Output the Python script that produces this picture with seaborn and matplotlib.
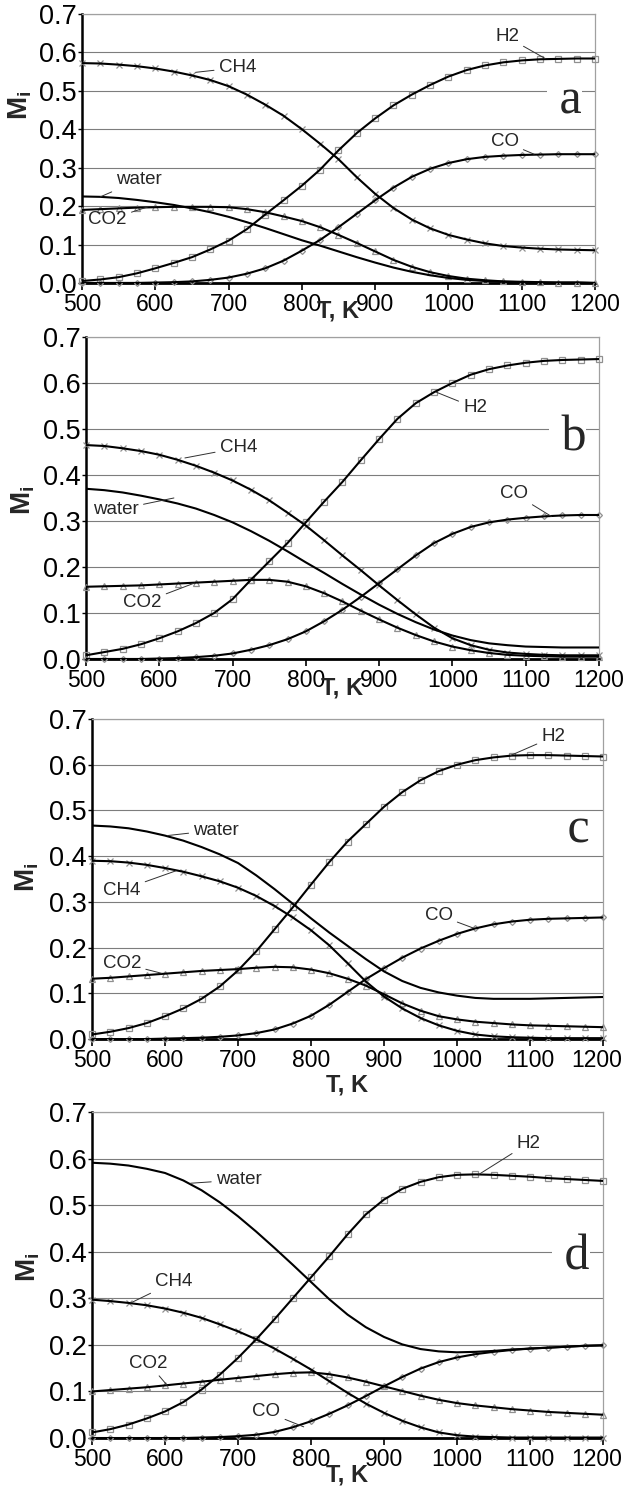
import matplotlib
matplotlib.use("Agg")
import matplotlib.pyplot as plt
import matplotlib.transforms as mtransforms
import seaborn as sns
import pandas as pd
from matplotlib.ticker import FormatStrFormatter

# ---------------- data ----------------
T = [500, 525, 550, 575, 600, 625, 650, 675, 700, 725, 750, 775, 800, 825, 850,
     875, 900, 925, 950, 975, 1000, 1025, 1050, 1075, 1100, 1125, 1150, 1175, 1200]

# panel a
a_H2 = [.005, .009, .015, .025, .038, .052, .067, .087, .110, .140, .178, .215, .253, .295, .345,
        .390, .428, .462, .490, .515, .537, .554, .566, .574, .579, .582, .583, .584, .584]
a_CO = [0, 0, 0, 0, .001, .002, .004, .008, .014, .024, .038, .058, .084, .112, .145,
        .180, .215, .248, .276, .297, .312, .322, .328, .331, .333, .334, .335, .335, .335]
a_CH4 = [.572, .571, .568, .564, .558, .550, .540, .528, .512, .490, .464, .435, .400, .362, .322,
         .275, .232, .195, .165, .142, .125, .113, .103, .096, .092, .089, .087, .086, .085]
a_CO2 = [.190, .192, .194, .196, .197, .198, .198, .198, .197, .192, .184, .173, .161, .145, .125,
         .104, .082, .060, .042, .028, .018, .011, .007, .004, .003, .002, .001, .001, .000]
a_water = [.225, .224, .221, .216, .210, .203, .194, .184, .172, .158, .143, .127, .111, .097, .082,
           .067, .053, .040, .029, .020, .013, .008, .005, .003, .002, .001, .001, .001, .000]

# panel b
b_H2 = [.008, .015, .022, .032, .045, .060, .078, .100, .130, .172, .212, .252, .297, .342, .385,
        .432, .478, .522, .556, .580, .600, .618, .630, .638, .644, .648, .650, .651, .652]
b_CO = [0, 0, 0, 0, .001, .002, .004, .007, .012, .020, .030, .043, .060, .082, .107,
        .135, .165, .195, .225, .252, .272, .287, .297, .303, .307, .310, .312, .313, .313]
b_CH4 = [.465, .463, .458, .452, .444, .433, .420, .405, .388, .368, .345, .318, .290, .258, .225,
         .193, .160, .128, .097, .068, .045, .030, .020, .014, .011, .009, .008, .008, .008]
b_CO2 = [.157, .158, .159, .160, .162, .164, .166, .168, .170, .172, .172, .168, .158, .143, .125,
         .105, .086, .068, .052, .038, .027, .019, .013, .009, .007, .006, .005, .005, .005]
b_water = [.370, .367, .362, .355, .347, .338, .327, .313, .297, .278, .257, .234, .210, .187, .163,
           .140, .118, .098, .080, .064, .051, .041, .034, .030, .027, .026, .025, .025, .025]

# panel c
c_H2 = [.010, .016, .024, .035, .050, .067, .088, .115, .150, .192, .240, .288, .338, .387, .432,
        .470, .508, .540, .566, .586, .600, .610, .616, .620, .621, .621, .620, .619, .618]
c_CO = [0, 0, 0, 0, .001, .002, .003, .005, .008, .013, .021, .034, .051, .075, .103,
        .131, .155, .178, .198, .215, .230, .242, .251, .257, .261, .263, .264, .265, .266]
c_CH4 = [.390, .389, .386, .381, .374, .366, .356, .345, .331, .313, .291, .266, .238, .205, .166,
         .126, .093, .067, .046, .030, .018, .010, .006, .004, .003, .002, .002, .002, .002]
c_CO2 = [.132, .134, .137, .140, .143, .146, .149, .151, .153, .156, .158, .157, .152, .144, .132,
         .117, .098, .078, .062, .050, .043, .038, .035, .032, .030, .029, .028, .027, .026]
c_water = [.467, .465, .461, .454, .445, .434, .420, .404, .385, .358, .328, .296, .264, .233, .204,
           .175, .148, .127, .112, .102, .095, .090, .088, .088, .088, .089, .090, .091, .092]

# panel d
d_H2 = [.012, .019, .029, .042, .057, .077, .104, .136, .172, .212, .255, .300, .345, .390, .437,
        .480, .512, .535, .550, .560, .565, .566, .565, .563, .561, .558, .556, .554, .552]
d_CO = [0, 0, 0, 0, 0, 0, .001, .002, .004, .007, .013, .023, .036, .052, .070,
        .090, .111, .131, .149, .163, .173, .180, .185, .189, .192, .194, .196, .198, .199]
d_CH4 = [.297, .294, .290, .285, .278, .269, .258, .244, .229, .212, .192, .170, .147, .122, .097,
         .074, .054, .037, .023, .012, .006, .003, .002, .001, .001, .001, .001, .001, .001]
d_CO2 = [.100, .103, .106, .109, .113, .117, .121, .125, .129, .133, .137, .140, .141, .137, .130,
         .121, .111, .101, .091, .082, .075, .070, .066, .062, .059, .056, .054, .052, .050]
d_water = [.591, .589, .585, .578, .569, .553, .532, .506, .476, .443, .408, .372, .335, .298, .265,
           .238, .217, .201, .191, .186, .184, .185, .187, .190, .192, .194, .196, .198, .199]

species = ["H2", "CO", "CH4", "CO2", "water"]
panel_names = ["a", "b", "c", "d"]
panel_series = {
    "a": [a_H2, a_CO, a_CH4, a_CO2, a_water],
    "b": [b_H2, b_CO, b_CH4, b_CO2, b_water],
    "c": [c_H2, c_CO, c_CH4, c_CO2, c_water],
    "d": [d_H2, d_CO, d_CH4, d_CO2, d_water],
}

x_ticks = [500, 600, 700, 800, 900, 1000, 1100, 1200]
y_ticks = [0.0, 0.1, 0.2, 0.3, 0.4, 0.5, 0.6, 0.7]

# ---------------- layout / style ----------------
markers = {"H2": "s", "CO": "D", "CH4": "x", "CO2": "^", "water": None}
msizes = {"H2": 4.6, "CO": 3.0, "CH4": 4.2, "CO2": 4.0, "water": 0}

# axes rectangles in figure fraction (left, bottom, width, height)
rects = {
    "a": (0.1316, 0.8110, 0.8234, 0.1797),
    "b": (0.1380, 0.5598, 0.8234, 0.2151),
    "c": (0.1477, 0.3059, 0.8202, 0.2138),
    "d": (0.1477, 0.0394, 0.8202, 0.2178),
}
ylabel_xy = {"a": (-0.121, 0.66), "b": (-0.123, 0.494), "c": (-0.127, 0.506), "d": (-0.125, 0.525)}
xlabel_y = {"a": -0.105, "b": -0.09, "c": -0.145, "d": -0.113}
last_label_shift_px = {"a": 0, "b": 0, "c": -6, "d": -6}
letter_pos = {"a": (1182, 0.442), "b": (1183, 0.454), "c": (1182, 0.431), "d": (1182, 0.361)}
letter_box = {"a": True, "b": True, "c": False, "d": True}

# annotations: label, text (T, v), point (T, v)
annots = {
    "a": [("CH4", 712, 0.560, 655, 0.548), ("water", 578, 0.268, 525, 0.224),
          ("CO2", 535, 0.164, 590, 0.198), ("H2", 1080, 0.640, 1132, 0.584),
          ("CO", 1077, 0.367, 1117, 0.335)],
    "b": [("CH4", 708, 0.459, 635, 0.437), ("water", 541, 0.324, 620, 0.350),
          ("CO2", 577, 0.122, 648, 0.165), ("H2", 1031, 0.546, 978, 0.580),
          ("CO", 1084, 0.360, 1135, 0.310)],
    "c": [("water", 670, 0.457, 603, 0.445), ("CH4", 541, 0.326, 615, 0.368),
          ("CO2", 541, 0.166, 595, 0.144), ("H2", 1132, 0.661, 1073, 0.620),
          ("CO", 975, 0.271, 1022, 0.243)],
    "d": [("water", 701, 0.554, 635, 0.547), ("CH4", 612, 0.335, 553, 0.290),
          ("CO2", 577, 0.161, 603, 0.113), ("CO", 739, 0.056, 790, 0.024),
          ("H2", 1098, 0.633, 1030, 0.566)],
}

sns.set_style("white")
plt.rcParams["font.family"] = ["Liberation Sans", "DejaVu Sans"]
plt.rcParams["mathtext.fontset"] = "custom"
plt.rcParams["mathtext.bf"] = "Liberation Sans:bold"
plt.rcParams["mathtext.rm"] = "Liberation Sans"
plt.rcParams["mathtext.it"] = "Liberation Sans:italic"

fig = plt.figure(figsize=(6.23, 14.97), dpi=100)
marker_gray = "#909090"

for p in panel_names:
    ax = fig.add_axes(rects[p])
    for sp, vals in zip(species, panel_series[p]):
        df = pd.DataFrame({"T": T, "M": vals})
        if markers[sp] is not None:
            sns.lineplot(data=df, x="T", y="M", ax=ax, estimator=None, linestyle="",
                         marker=markers[sp], markersize=msizes[sp],
                         markerfacecolor="none", markeredgecolor=marker_gray,
                         markeredgewidth=0.9, color=marker_gray, clip_on=False, zorder=3)
        sns.lineplot(data=df, x="T", y="M", ax=ax, estimator=None, color="black",
                     linewidth=1.5, zorder=4)

    ax.set_xlim(500, 1200)
    ax.set_ylim(0, 0.7)
    ax.set_xticks(x_ticks)
    ax.set_yticks(y_ticks)
    ax.yaxis.set_major_formatter(FormatStrFormatter("%.1f"))
    ax.set_axisbelow(True)
    ax.yaxis.grid(True, color="#7d7d7d", linewidth=0.8)
    ax.xaxis.grid(False)

    for side in ["left", "bottom"]:
        ax.spines[side].set_color("black")
    ax.spines["left"].set_linewidth(1.8)
    ax.spines["bottom"].set_linewidth(2.0)
    for side in ["top", "right"]:
        ax.spines[side].set_color("#a0a0a0")
        ax.spines[side].set_linewidth(0.9)

    ax.tick_params(axis="x", direction="out", length=5, width=1.2, colors="black",
                   labelsize=16.5, pad=2, bottom=True)
    ax.tick_params(axis="y", direction="out", length=3, width=1.0, colors="black",
                   labelsize=19.5, pad=1, left=True)

    shift = last_label_shift_px[p]
    if shift:
        lab = ax.get_xticklabels()[-1]
        offset = mtransforms.ScaledTranslation(shift / 100.0, 0, fig.dpi_scale_trans)
        lab.set_transform(lab.get_transform() + offset)

    ax.set_xlabel("T, K", fontsize=17, fontweight="bold")
    ax.xaxis.label.set_va("center")
    ax.xaxis.set_label_coords(0.5, xlabel_y[p])
    ax.set_ylabel(r"$\mathbf{M}_{\mathbf{i}}$", fontsize=20)
    ax.yaxis.label.set_va("center")
    ax.yaxis.set_label_coords(*ylabel_xy[p])

    lx, ly = letter_pos[p]
    kw = dict(bbox=dict(facecolor="white", edgecolor="none", pad=0)) if letter_box[p] else {}
    ax.text(lx, ly, " " + p, family=["Liberation Serif", "DejaVu Serif"], fontsize=36,
            ha="right", va="baseline", zorder=2, **kw)

    for lbl, tx, ty, px, py in annots[p]:
        ax.annotate(lbl, xy=(px, py), xytext=(tx, ty), ha="center", va="center",
                    fontsize=13.5, zorder=5,
                    arrowprops=dict(arrowstyle="-", color="#303030", lw=0.7,
                                    shrinkA=1, shrinkB=0))

fig.savefig("out.png", dpi=100, facecolor="white")
